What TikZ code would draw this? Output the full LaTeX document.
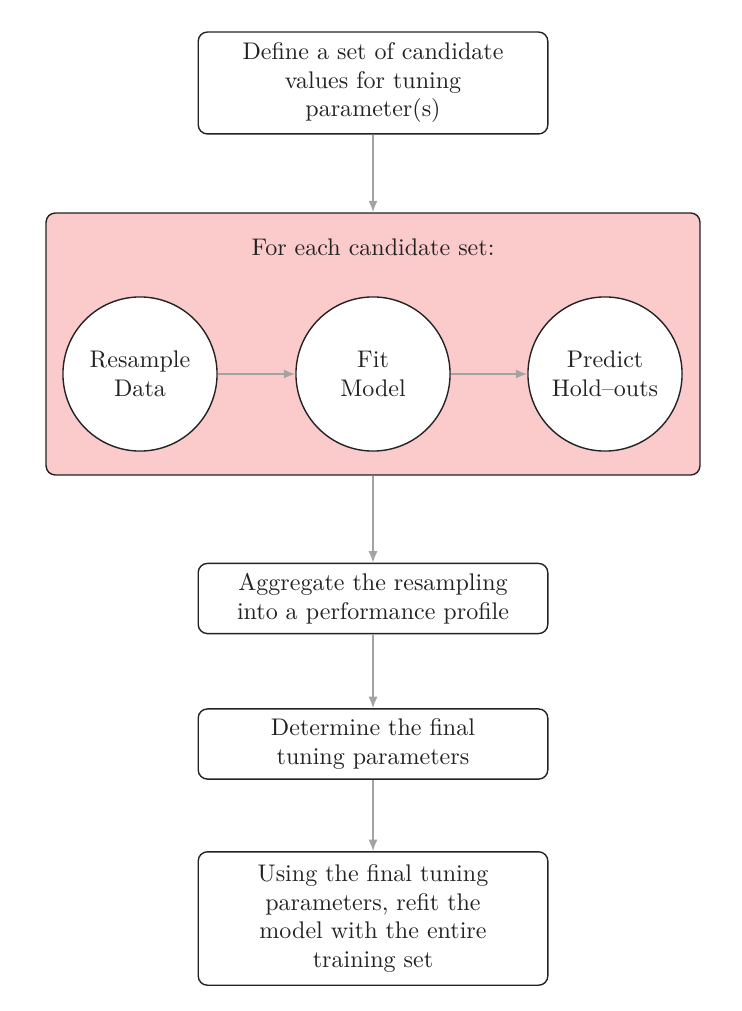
\documentclass[tikz,border=0pt]{standalone}
\usetikzlibrary{arrows.meta}
\definecolor{boxpink}{HTML}{FBCACB}
\definecolor{arrowgray}{HTML}{A3A3A3}
\definecolor{edgedark}{HTML}{222222}
\begin{document}
\begin{tikzpicture}[x=0.43478pt,y=-0.43478pt,
  every node/.style={font=\fontsize{10.45pt}{12.4pt}\selectfont},
  stepbox/.style={draw=edgedark,semithick,rounded corners=4pt,fill=white,align=center,minimum width=152pt,inner sep=3pt,text=edgedark},
  groupbox/.style={draw=edgedark,semithick,rounded corners=4pt,fill=boxpink,minimum width=284.3pt,minimum height=113.9pt},
  circ/.style={draw=edgedark,semithick,circle,fill=white,minimum size=67pt,align=center,inner sep=0pt,text=edgedark},
  flow/.style={draw=arrowgray,thick,-{Latex[length=5pt,width=4pt]}}]
\useasboundingbox (0,0) rectangle (741,1011);
\node[stepbox,minimum height=44.3pt] (def) at (373,83) {Define a set of candidate\\values for tuning\\parameter(s)};
\node[groupbox] (group) at (373,344) {};
\node[text=edgedark] (title) at (373,247) {For each candidate set:};
\node[circ] (res) at (140,374) {Resample\\Data};
\node[circ] (fit) at (373,374) {Fit\\Model};
\node[circ] (pred) at (605,374) {Predict\\Hold--outs};
\node[stepbox,minimum height=30.5pt] (agg) at (373,598.5) {Aggregate the resampling\\into a performance profile};
\node[stepbox,minimum height=30.5pt] (det) at (373,744) {Determine the final\\tuning parameters};
\node[stepbox,minimum height=58pt] (use) at (373,918.5) {Using the final tuning\\parameters, refit the\\model with the entire\\training set};
\draw[flow] (def) -- (group);
\draw[flow] (res) -- (fit);
\draw[flow] (fit) -- (pred);
\draw[flow] (group) -- (agg);
\draw[flow] (agg) -- (det);
\draw[flow] (det) -- (use);
\end{tikzpicture}
\end{document}
